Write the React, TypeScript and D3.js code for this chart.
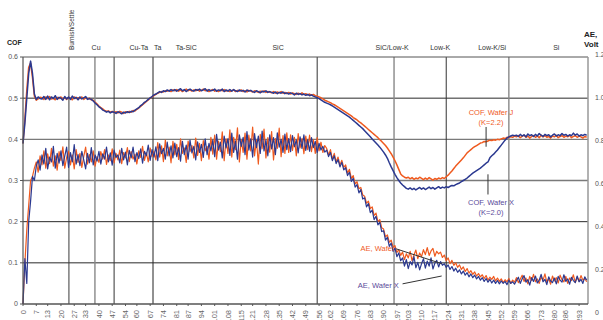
import { useEffect, useRef } from "react";
import * as d3 from "d3";

// one sample per time unit, t = 0..297
const cofWaferJ = [
  0.39, 0.45, 0.52, 0.575, 0.585, 0.55, 0.505, 0.495, 0.498, 0.502,
  0.501, 0.497, 0.503, 0.499, 0.504, 0.498, 0.5, 0.496, 0.502, 0.499,
  0.503, 0.498, 0.501, 0.497, 0.502, 0.5, 0.496, 0.503, 0.499, 0.501,
  0.499, 0.503, 0.497, 0.501, 0.498, 0.5, 0.496, 0.495, 0.49, 0.486,
  0.481, 0.477, 0.474, 0.47, 0.468, 0.469, 0.466, 0.468, 0.465, 0.467,
  0.464, 0.468, 0.466, 0.463, 0.467, 0.465, 0.468, 0.466, 0.47, 0.469,
  0.473, 0.476, 0.48, 0.484, 0.488, 0.492, 0.496, 0.5, 0.503, 0.506,
  0.509, 0.512, 0.514, 0.516, 0.515, 0.518, 0.517, 0.519, 0.516, 0.52,
  0.518, 0.521, 0.517, 0.52, 0.516, 0.519, 0.522, 0.518, 0.52, 0.517,
  0.52, 0.518, 0.521, 0.517, 0.519, 0.522, 0.518, 0.52, 0.516, 0.519,
  0.521, 0.517, 0.519, 0.516, 0.52, 0.518, 0.521, 0.517, 0.519, 0.516,
  0.518, 0.52, 0.516, 0.519, 0.517, 0.52, 0.516, 0.518, 0.515, 0.519,
  0.517, 0.515, 0.518, 0.516, 0.514, 0.517, 0.515, 0.518, 0.514, 0.516,
  0.515, 0.513, 0.516, 0.512, 0.515, 0.513, 0.516, 0.512, 0.514, 0.511,
  0.514, 0.51, 0.513, 0.511, 0.509, 0.512, 0.51, 0.513, 0.509, 0.511,
  0.508, 0.51, 0.507, 0.509, 0.506, 0.505, 0.503, 0.501, 0.498, 0.495,
  0.493, 0.491, 0.489, 0.486, 0.484, 0.481, 0.478, 0.475, 0.472, 0.469,
  0.466, 0.463, 0.46, 0.457, 0.453, 0.45, 0.447, 0.443, 0.44, 0.436,
  0.432, 0.428, 0.424, 0.42, 0.416, 0.412, 0.408, 0.404, 0.399, 0.395,
  0.39, 0.385, 0.379, 0.372, 0.365, 0.357, 0.348, 0.338, 0.327, 0.316,
  0.311, 0.308, 0.306, 0.308, 0.304, 0.307, 0.303, 0.306, 0.304, 0.308,
  0.305, 0.302, 0.306, 0.303, 0.307, 0.304, 0.301, 0.305, 0.303, 0.306,
  0.304, 0.307, 0.305, 0.309, 0.313, 0.318, 0.323, 0.329, 0.335, 0.34,
  0.345, 0.35, 0.355, 0.361, 0.367, 0.371, 0.375, 0.379, 0.382, 0.385,
  0.388, 0.391, 0.392, 0.395, 0.394, 0.396, 0.398, 0.397, 0.399, 0.398,
  0.4, 0.399, 0.401, 0.403, 0.402, 0.405, 0.404, 0.406, 0.405, 0.408,
  0.406, 0.409, 0.404, 0.407, 0.41, 0.405, 0.408, 0.403, 0.407, 0.409,
  0.405, 0.408, 0.404, 0.41, 0.406, 0.409, 0.405, 0.407, 0.403, 0.408,
  0.406, 0.41, 0.404, 0.407, 0.409, 0.405, 0.408, 0.406, 0.41, 0.404,
  0.407, 0.409, 0.405, 0.408, 0.406, 0.403, 0.407, 0.405,
];

const cofWaferX = [
  0.39, 0.44, 0.5, 0.56, 0.59, 0.56, 0.51, 0.497, 0.503, 0.499,
  0.498, 0.504, 0.497, 0.505, 0.496, 0.503, 0.499, 0.506, 0.497, 0.502,
  0.5, 0.495, 0.504, 0.498, 0.503, 0.497, 0.505, 0.499, 0.502, 0.496,
  0.503, 0.498, 0.501, 0.504, 0.497, 0.499, 0.497, 0.493, 0.488, 0.484,
  0.479, 0.476, 0.471, 0.469, 0.466, 0.468, 0.464, 0.467, 0.466, 0.463,
  0.467, 0.465, 0.462, 0.466, 0.464, 0.467, 0.465, 0.468, 0.467, 0.471,
  0.474, 0.477, 0.482, 0.485, 0.49, 0.493, 0.497, 0.501, 0.504, 0.508,
  0.51, 0.513, 0.516, 0.514, 0.518, 0.516, 0.52, 0.517, 0.521, 0.518,
  0.521, 0.517, 0.52, 0.523, 0.518, 0.521, 0.516, 0.52, 0.522, 0.519,
  0.517, 0.521, 0.519, 0.522, 0.518, 0.52, 0.523, 0.517, 0.521, 0.518,
  0.519, 0.522, 0.517, 0.52, 0.518, 0.522, 0.516, 0.52, 0.517, 0.521,
  0.517, 0.521, 0.518, 0.516, 0.52, 0.517, 0.519, 0.515, 0.52, 0.517,
  0.519, 0.516, 0.514, 0.518, 0.516, 0.513, 0.517, 0.515, 0.518, 0.514,
  0.516, 0.514, 0.512, 0.515, 0.511, 0.514, 0.512, 0.515, 0.511, 0.513,
  0.51, 0.513, 0.511, 0.508, 0.512, 0.509, 0.511, 0.508, 0.51, 0.507,
  0.509, 0.506, 0.508, 0.505, 0.503, 0.501, 0.499, 0.496, 0.493, 0.49,
  0.488, 0.486, 0.484, 0.481, 0.478, 0.475, 0.472, 0.469, 0.466, 0.463,
  0.46, 0.457, 0.454, 0.45, 0.446, 0.442, 0.438, 0.434, 0.43, 0.426,
  0.421, 0.416, 0.411, 0.406, 0.401, 0.396, 0.391, 0.386, 0.381, 0.375,
  0.369, 0.362, 0.354, 0.343, 0.333, 0.324, 0.315, 0.307, 0.3, 0.294,
  0.289, 0.285, 0.281, 0.279, 0.282, 0.278, 0.281, 0.277, 0.28, 0.283,
  0.279, 0.282, 0.278, 0.281, 0.284, 0.28, 0.283, 0.279, 0.282, 0.285,
  0.281, 0.284, 0.282, 0.285, 0.283, 0.286, 0.288, 0.287, 0.29, 0.292,
  0.294, 0.297, 0.3, 0.303, 0.306, 0.31, 0.314, 0.318, 0.321, 0.324,
  0.327, 0.33, 0.334, 0.338, 0.342, 0.345, 0.355, 0.36, 0.364, 0.369,
  0.374, 0.38, 0.386, 0.392, 0.398, 0.403, 0.406, 0.408, 0.41, 0.409,
  0.41, 0.407, 0.412, 0.408, 0.411, 0.406, 0.413, 0.409, 0.411, 0.407,
  0.412, 0.408, 0.414, 0.41, 0.407, 0.412, 0.409, 0.411, 0.406, 0.41,
  0.413, 0.408, 0.411, 0.409, 0.414, 0.41, 0.412, 0.408, 0.411, 0.409,
  0.415, 0.41, 0.413, 0.408, 0.411, 0.409, 0.412, 0.41,
];

// acoustic emission, volts (right axis)
const aeWaferJ = [
  0, 0.2, 0.36, 0.48, 0.6, 0.62, 0.66, 0.69, 0.64, 0.72,
  0.676, 0.744, 0.66, 0.73, 0.682, 0.756, 0.67, 0.72, 0.65, 0.74,
  0.696, 0.764, 0.66, 0.712, 0.742, 0.676, 0.724, 0.656, 0.75, 0.688,
  0.732, 0.664, 0.716, 0.762, 0.68, 0.726, 0.69, 0.744, 0.67, 0.716,
  0.688, 0.74, 0.704, 0.75, 0.678, 0.724, 0.696, 0.754, 0.686, 0.732,
  0.7, 0.748, 0.682, 0.736, 0.71, 0.76, 0.692, 0.74, 0.704, 0.728,
  0.68, 0.744, 0.712, 0.766, 0.698, 0.736, 0.69, 0.758, 0.716, 0.742,
  0.7, 0.784, 0.714, 0.768, 0.692, 0.796, 0.72, 0.762, 0.686, 0.79,
  0.724, 0.776, 0.702, 0.802, 0.732, 0.758, 0.688, 0.792, 0.74, 0.77,
  0.71, 0.806, 0.722, 0.78, 0.696, 0.794, 0.744, 0.766, 0.704, 0.81,
  0.728, 0.82, 0.704, 0.792, 0.74, 0.836, 0.696, 0.802, 0.732, 0.846,
  0.714, 0.81, 0.75, 0.856, 0.69, 0.798, 0.736, 0.83, 0.704, 0.82,
  0.744, 0.86, 0.72, 0.796, 0.68, 0.824, 0.754, 0.85, 0.71, 0.808,
  0.738, 0.838, 0.7, 0.804, 0.756, 0.854, 0.716, 0.818, 0.732, 0.832,
  0.736, 0.822, 0.746, 0.81, 0.72, 0.828, 0.758, 0.804, 0.73, 0.816,
  0.75, 0.82, 0.74, 0.798, 0.732, 0.808, 0.744, 0.786, 0.736, 0.77,
  0.756, 0.724, 0.75, 0.704, 0.732, 0.69, 0.714, 0.676, 0.698, 0.664,
  0.676, 0.636, 0.654, 0.61, 0.624, 0.584, 0.594, 0.56, 0.566, 0.53,
  0.524, 0.49, 0.5, 0.464, 0.472, 0.43, 0.442, 0.4, 0.41, 0.37,
  0.364, 0.326, 0.336, 0.3, 0.31, 0.276, 0.284, 0.25, 0.264, 0.236,
  0.252, 0.216, 0.244, 0.224, 0.256, 0.21, 0.238, 0.262, 0.22, 0.248,
  0.23, 0.264, 0.24, 0.274, 0.236, 0.258, 0.27, 0.232, 0.256, 0.244,
  0.252, 0.226, 0.238, 0.21, 0.224, 0.196, 0.212, 0.188, 0.2, 0.178,
  0.19, 0.168, 0.18, 0.158, 0.172, 0.15, 0.162, 0.144, 0.156, 0.136,
  0.148, 0.132, 0.142, 0.124, 0.138, 0.116, 0.13, 0.12, 0.134, 0.112,
  0.126, 0.11, 0.122, 0.104, 0.118, 0.108, 0.124, 0.1, 0.116, 0.106,
  0.128, 0.104, 0.12, 0.14, 0.11, 0.126, 0.098, 0.134, 0.114, 0.144,
  0.108, 0.122, 0.1, 0.132, 0.116, 0.146, 0.106, 0.124, 0.096, 0.136,
  0.112, 0.128, 0.102, 0.14, 0.118, 0.108, 0.134, 0.1, 0.126, 0.114,
  0.142, 0.104, 0.13, 0.11, 0.138, 0.116, 0.124, 0.108,
];

const aeWaferX = [
  0, 0.22, 0.1, 0.4, 0.5, 0.62, 0.6, 0.67, 0.7, 0.65,
  0.724, 0.68, 0.756, 0.656, 0.714, 0.69, 0.766, 0.66, 0.732, 0.684,
  0.744, 0.672, 0.718, 0.762, 0.664, 0.736, 0.69, 0.774, 0.68, 0.726,
  0.672, 0.742, 0.7, 0.656, 0.732, 0.686, 0.76, 0.676, 0.724, 0.694,
  0.742, 0.68, 0.73, 0.704, 0.762, 0.69, 0.734, 0.674, 0.748, 0.712,
  0.724, 0.686, 0.756, 0.7, 0.738, 0.676, 0.746, 0.71, 0.762, 0.692,
  0.736, 0.706, 0.754, 0.684, 0.742, 0.72, 0.772, 0.698, 0.75, 0.714,
  0.764, 0.696, 0.778, 0.73, 0.756, 0.704, 0.786, 0.72, 0.768, 0.71,
  0.782, 0.716, 0.76, 0.694, 0.79, 0.726, 0.772, 0.704, 0.796, 0.734,
  0.766, 0.7, 0.788, 0.736, 0.776, 0.712, 0.802, 0.726, 0.78, 0.744,
  0.796, 0.716, 0.824, 0.748, 0.786, 0.71, 0.816, 0.758, 0.804, 0.722,
  0.83, 0.736, 0.792, 0.704, 0.822, 0.766, 0.81, 0.726, 0.838, 0.748,
  0.802, 0.714, 0.828, 0.76, 0.816, 0.732, 0.84, 0.744, 0.796, 0.72,
  0.822, 0.754, 0.808, 0.726, 0.832, 0.762, 0.8, 0.736, 0.826, 0.75,
  0.804, 0.74, 0.818, 0.764, 0.796, 0.734, 0.812, 0.756, 0.822, 0.746,
  0.798, 0.742, 0.808, 0.76, 0.79, 0.736, 0.78, 0.748, 0.766, 0.738,
  0.748, 0.716, 0.736, 0.696, 0.72, 0.682, 0.702, 0.666, 0.688, 0.652,
  0.662, 0.624, 0.64, 0.596, 0.61, 0.568, 0.58, 0.54, 0.556, 0.51,
  0.516, 0.472, 0.488, 0.444, 0.456, 0.41, 0.426, 0.384, 0.396, 0.352,
  0.356, 0.31, 0.324, 0.28, 0.296, 0.256, 0.272, 0.23, 0.248, 0.21,
  0.224, 0.184, 0.216, 0.172, 0.206, 0.19, 0.23, 0.176, 0.202, 0.166,
  0.196, 0.22, 0.174, 0.208, 0.184, 0.224, 0.17, 0.198, 0.212, 0.18,
  0.206, 0.188, 0.196, 0.178, 0.19, 0.168, 0.182, 0.16, 0.174, 0.154,
  0.166, 0.146, 0.16, 0.14, 0.152, 0.132, 0.146, 0.128, 0.14, 0.122,
  0.134, 0.116, 0.128, 0.11, 0.124, 0.106, 0.12, 0.102, 0.116, 0.1,
  0.114, 0.098, 0.112, 0.1, 0.11, 0.094, 0.116, 0.1, 0.108, 0.096,
  0.114, 0.13, 0.1, 0.122, 0.138, 0.106, 0.118, 0.092, 0.128, 0.11,
  0.136, 0.102, 0.116, 0.144, 0.108, 0.12, 0.094, 0.132, 0.112, 0.104,
  0.126, 0.098, 0.134, 0.116, 0.106, 0.142, 0.11, 0.122, 0.096, 0.13,
  0.114, 0.104, 0.136, 0.108, 0.12, 0.1, 0.132, 0.116,
];

const xTickLabels = [
  0, 7, 13, 20, 27, 33, 40, 47, 54, 60, 67, 74, 81, 87, 94, 101, 108, 115, 121, 128, 135, 142,
  149, 156, 162, 169, 176, 183, 190, 197, 203, 210, 217, 224, 231, 238, 245, 252, 259, 266, 273, 280, 286, 293,
];
const cofTicks = [0, 0.1, 0.2, 0.3, 0.4, 0.5, 0.6];
const aeTicks = [0, 0.2, 0.4, 0.6, 0.8, 1.0, 1.2];

// process step boundaries (time units) and their names
const stepBounds = [24.2, 37.9, 48, 68.5, 155, 195.5, 223, 256];
const stepNames = ["Cu", "Cu-Ta", "Ta", "Ta-SiC", "SiC", "SiC/Low-K", "Low-K", "Low-K/Si", "Si"];
const stepNameAt = [38.5, 61, 71, 86, 134.4, 194.5, 219.8, 247.2, 281];

const ORANGE = "#ef5a1f";
const BLUE = "#2b3990";
const PURPLE = "#5a4a9a";
const FONT = "Liberation Sans, Arial, sans-serif";

export default function App() {
  const ref = useRef<SVGSVGElement>(null);
  useEffect(() => {
    if (!ref.current) return;
    const svg = d3.select(ref.current);
    svg.selectAll("*").remove();
    const W = 603, H = 320;
    const m = { t: 57, r: 15, b: 16, l: 23 };

    const x = d3.scaleLinear().domain([0, 297.7]).range([m.l, W - m.r]);
    const y = d3.scaleLinear().domain([0, 0.6]).range([H - m.b, m.t]);
    const yAe = d3.scaleLinear().domain([0, 1.2]).range([H - m.b, m.t]);
    // the secondary axis labels sit a little off the grid in the original
    const yAeLabel = d3.scaleLinear().domain([0, 1.2]).range([313, 55]);

    svg.append("rect").attr("width", W).attr("height", H).attr("fill", "#fff");

    // horizontal grid
    cofTicks.slice(1, -1).forEach((v) => {
      const grey = v === 0.3 || v === 0.4;
      svg.append("line")
        .attr("x1", x(0)).attr("x2", x(297.7))
        .attr("y1", y(v)).attr("y2", y(v))
        .attr("stroke", grey ? "#7a7a7a" : "#2a2a2a")
        .attr("stroke-width", grey ? 1.4 : 1);
    });

    // step boundaries
    const boundShade = ["#3a3a3a", "#888", "#333", "#222", "#333", "#888", "#333", "#888"];
    stepBounds.forEach((t, i) => {
      svg.append("line")
        .attr("x1", x(t)).attr("x2", x(t))
        .attr("y1", y(0.6)).attr("y2", y(0))
        .attr("stroke", boundShade[i])
        .attr("stroke-width", boundShade[i] === "#888" ? 1.4 : 1);
    });

    // frame
    svg.append("line").attr("x1", x(0)).attr("x2", x(297.7)).attr("y1", y(0.6)).attr("y2", y(0.6))
      .attr("stroke", "#555").attr("stroke-width", 1);
    svg.append("line").attr("x1", x(297.7)).attr("x2", x(297.7)).attr("y1", y(0.6)).attr("y2", y(0))
      .attr("stroke", "#999").attr("stroke-width", 1.5);

    // series
    const line = d3.line<number>().x((_, i) => x(i));
    const draw = (data: number[], sy: d3.ScaleLinear<number, number>, color: string, sw: number) =>
      svg.append("path")
        .attr("d", line.y((d) => sy(d))(data))
        .attr("fill", "none").attr("stroke", color)
        .attr("stroke-width", sw).attr("stroke-linejoin", "round");
    draw(aeWaferJ, yAe, ORANGE, 1.2);
    draw(aeWaferX, yAe, BLUE, 1.2);
    draw(cofWaferJ, y, ORANGE, 1.5);
    draw(cofWaferX, y, BLUE, 1.5);

    // axes
    svg.append("line").attr("x1", x(0)).attr("x2", x(0)).attr("y1", y(0.6)).attr("y2", y(0))
      .attr("stroke", "#555").attr("stroke-width", 1.2);
    svg.append("line").attr("x1", x(0)).attr("x2", x(297.7)).attr("y1", y(0)).attr("y2", y(0))
      .attr("stroke", "#555").attr("stroke-width", 1.5);

    cofTicks.forEach((v) => {
      svg.append("line").attr("x1", x(0) - 3).attr("x2", x(0)).attr("y1", y(v)).attr("y2", y(v))
        .attr("stroke", "#555");
      svg.append("text")
        .attr("x", x(0) - 5).attr("y", y(v)).attr("dy", "0.35em")
        .attr("text-anchor", "end").attr("font-family", FONT).attr("font-size", 7)
        .attr("fill", "#555").text(v === 0 ? "0" : d3.format(".1f")(v));
    });

    aeTicks.forEach((v) => {
      svg.append("text")
        .attr("x", 595).attr("y", yAeLabel(v)).attr("dy", "0.35em")
        .attr("font-family", FONT).attr("font-size", 7)
        .attr("fill", "#555").text(v === 0 ? "0" : d3.format(".1f")(v));
    });

    // rotated labels run off the bottom edge, as in the original
    xTickLabels.forEach((v) => {
      svg.append("line").attr("x1", x(v)).attr("x2", x(v)).attr("y1", y(0)).attr("y2", y(0) + 2)
        .attr("stroke", "#555");
      svg.append("text")
        .attr("transform", `translate(${x(v)},${y(0) + 6}) rotate(-90)`)
        .attr("dy", "0.35em").attr("text-anchor", "end")
        .attr("font-family", FONT).attr("font-size", 7.5)
        .attr("fill", "#666").text(String(v));
    });

    // axis titles
    svg.append("text").attr("x", 7).attr("y", 45).attr("font-family", FONT)
      .attr("font-size", 7).attr("font-weight", "bold").attr("fill", "#222").text("COF");
    svg.append("text").attr("x", 584).attr("y", 37).attr("font-family", FONT)
      .attr("font-size", 8).attr("font-weight", "bold").attr("fill", "#222").text("AE,");
    svg.append("text").attr("x", 584).attr("y", 47).attr("font-family", FONT)
      .attr("font-size", 8).attr("font-weight", "bold").attr("fill", "#222").text("Volt");

    // step names
    svg.append("text")
      .attr("transform", `translate(${x(25.3) + 2.5},50) rotate(-90)`)
      .attr("font-family", FONT).attr("font-size", 6.5).attr("fill", "#333")
      .text("Burnish/Settle");
    stepNames.forEach((name, i) => {
      svg.append("text")
        .attr("x", x(stepNameAt[i])).attr("y", 50).attr("text-anchor", "middle")
        .attr("font-family", FONT).attr("font-size", 7).attr("fill", "#333").text(name);
    });

    // annotations
    const note = (tx: number, ty: number, lines: string[], color: string) =>
      lines.forEach((s, i) =>
        svg.append("text").attr("x", tx).attr("y", ty + i * 10).attr("text-anchor", "middle")
          .attr("font-family", FONT).attr("font-size", 7.5).attr("fill", color).text(s));
    const leader = (t1: number, v1: number, t2: number, v2: number) =>
      svg.append("line")
        .attr("x1", x(t1)).attr("y1", y(v1)).attr("x2", x(t2)).attr("y2", y(v2))
        .attr("stroke", "#333").attr("stroke-width", 1);

    note(x(246.6), y(0.46), ["COF, Wafer J", "(K=2.2)"], ORANGE);
    leader(244, 0.43, 244, 0.382);
    note(x(246.6), y(0.24), ["COF, Wafer X", "(K=2.0)"], PURPLE);
    leader(245, 0.315, 245, 0.266);
    svg.append("text").attr("x", x(195.7)).attr("y", y(0.129)).attr("text-anchor", "end")
      .attr("font-family", FONT).attr("font-size", 7.5).attr("fill", ORANGE).text("AE, Wafer");
    leader(196.6, 0.134, 220.6, 0.098);
    svg.append("text").attr("x", x(198)).attr("y", y(0.039)).attr("text-anchor", "end")
      .attr("font-family", FONT).attr("font-size", 7.5).attr("fill", PURPLE).text("AE, Wafer X");
    leader(200, 0.049, 220.6, 0.068);
  }, []);

  return (
    <svg
      ref={ref}
      width={603}
      height={320}
      style={{ position: "absolute", left: 0, top: 0, display: "block" }}
    />
  );
}
